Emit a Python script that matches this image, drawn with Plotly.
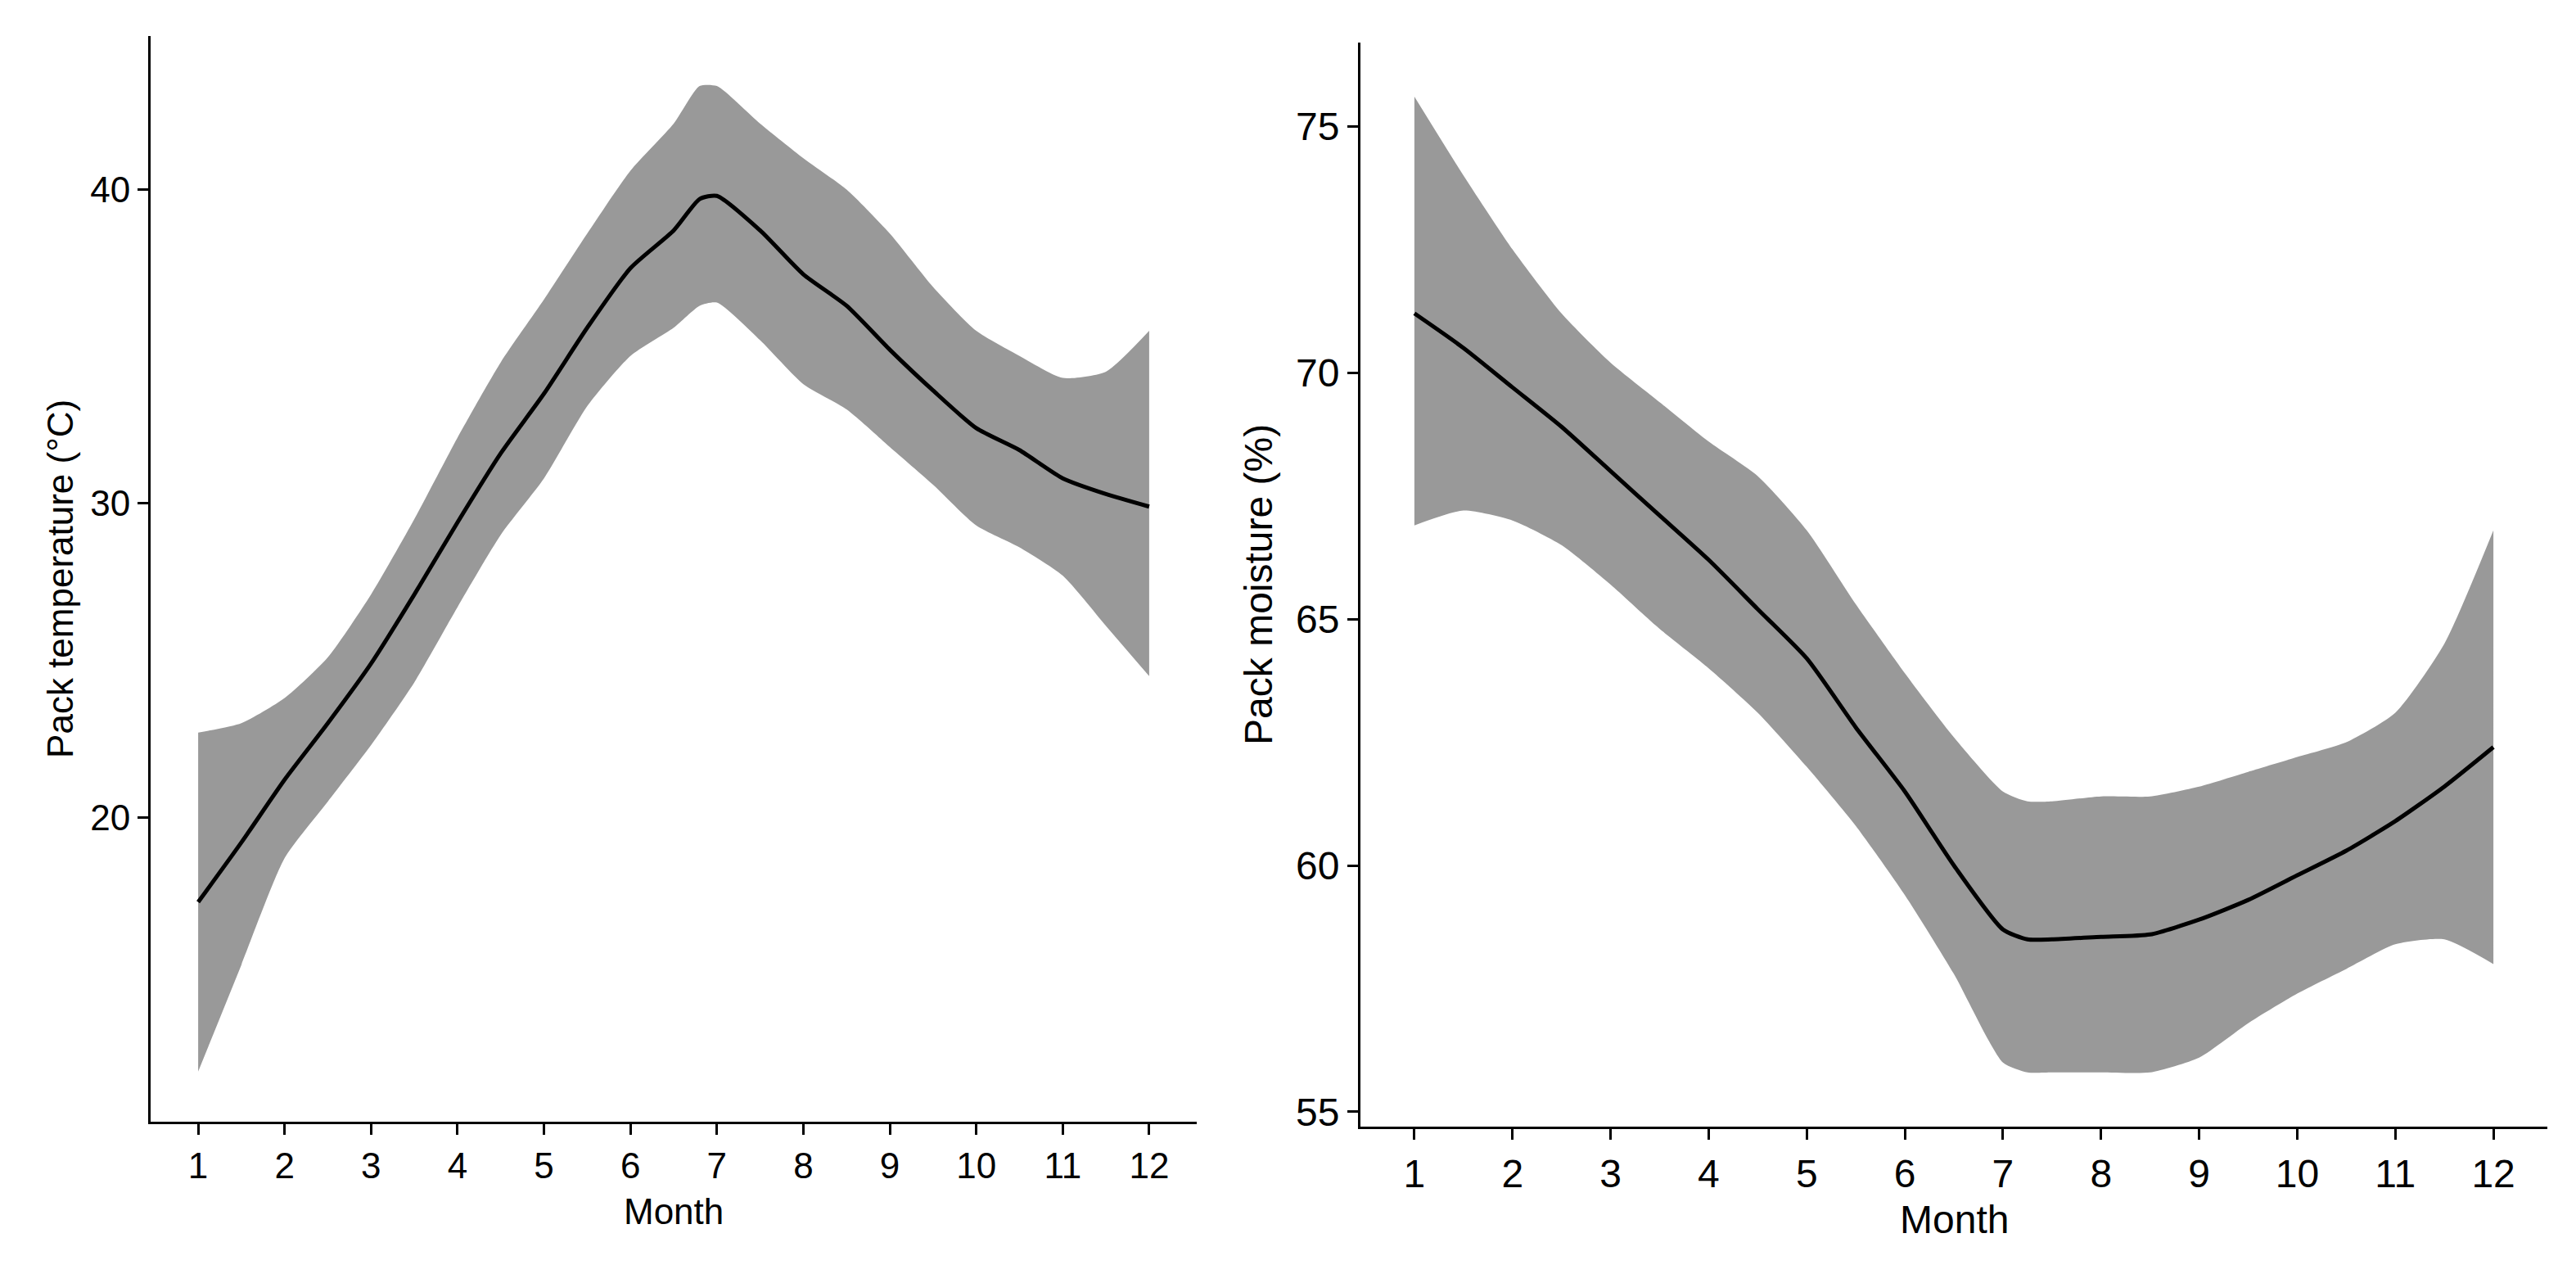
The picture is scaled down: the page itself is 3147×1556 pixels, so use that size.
import plotly.graph_objects as go

# ---- Left panel: pack temperature ----
temp_month = [1, 1.5, 2, 2.5, 3, 3.5, 4, 4.5, 5, 5.5, 6, 6.5, 6.8, 7, 7.5, 8, 8.5, 9, 9.5, 10, 10.5, 11, 11.5, 12]
temp_fit = [17.3, 19.2, 21.2, 23.0, 24.9, 27.1, 29.4, 31.6, 33.5, 35.6, 37.5, 38.7, 39.7, 39.8, 38.7, 37.3, 36.3, 34.9, 33.6, 32.4, 31.7, 30.8, 30.3, 29.9]
temp_upper = [22.7, 23.0, 23.8, 25.1, 27.1, 29.5, 32.1, 34.5, 36.5, 38.6, 40.6, 42.1, 43.3, 43.3, 42.1, 41.0, 40.0, 38.6, 36.9, 35.5, 34.7, 34.0, 34.2, 35.5]
temp_lower = [11.9, 15.3, 18.7, 20.5, 22.3, 24.3, 26.7, 29.0, 30.8, 33.1, 34.7, 35.6, 36.3, 36.4, 35.2, 33.8, 33.0, 31.8, 30.6, 29.3, 28.6, 27.7, 26.1, 24.5]

# ---- Right panel: pack moisture ----
moist_month = [1, 1.5, 2, 2.5, 3, 3.5, 4, 4.5, 5, 5.5, 6, 6.5, 7, 7.25, 7.5, 8, 8.5, 9, 9.5, 10, 10.5, 11, 11.5, 12]
moist_fit = [71.2, 70.5, 69.7, 68.9, 68.0, 67.1, 66.2, 65.2, 64.2, 62.8, 61.5, 60.0, 58.7, 58.5, 58.5, 58.55, 58.6, 58.9, 59.3, 59.8, 60.3, 60.9, 61.6, 62.4]
moist_upper = [75.6, 74.0, 72.5, 71.2, 70.2, 69.4, 68.6, 67.9, 66.8, 65.3, 63.9, 62.6, 61.5, 61.3, 61.3, 61.4, 61.4, 61.6, 61.9, 62.2, 62.5, 63.1, 64.5, 66.8]
moist_lower = [66.9, 67.2, 67.0, 66.5, 65.7, 64.8, 64.0, 63.1, 62.0, 60.8, 59.4, 57.8, 56.0, 55.8, 55.8, 55.8, 55.8, 56.1, 56.8, 57.4, 57.9, 58.4, 58.5, 58.0]

month_ticks = list(range(1, 13))
temp_ticks = [20, 30, 40]
moist_ticks = [55, 60, 65, 70, 75]

W, H = 3147, 1556
BAND = "#999999"
FONT = "Liberation Sans, Arial, sans-serif"
FS_L = 44
FS_R = 48

fig = go.Figure()

def add_panel(xs, fit, lo, hi, xa, ya):
    fig.add_trace(go.Scatter(x=xs, y=lo, mode="lines", line=dict(width=0, color=BAND, shape="spline", smoothing=0.6),
                             xaxis=xa, yaxis=ya, showlegend=False, hoverinfo="skip"))
    fig.add_trace(go.Scatter(x=xs, y=hi, mode="lines", line=dict(width=0, color=BAND, shape="spline", smoothing=0.6),
                             fill="tonexty", fillcolor=BAND, xaxis=xa, yaxis=ya, showlegend=False, hoverinfo="skip"))
    fig.add_trace(go.Scatter(x=xs, y=fit, mode="lines", line=dict(width=5, color="black", shape="spline", smoothing=0.6),
                             xaxis=xa, yaxis=ya, showlegend=False))

add_panel(temp_month, temp_fit, temp_lower, temp_upper, "x", "y")
add_panel(moist_month, moist_fit, moist_lower, moist_upper, "x2", "y2")

def axis_style(fs, **kw):
    d = dict(showline=True, linecolor="black", linewidth=3, ticks="outside", ticklen=13, tickwidth=3,
             tickcolor="black", showgrid=False, zeroline=False, mirror=False,
             tickfont=dict(family=FONT, size=fs, color="black"))
    d.update(kw)
    return d

fig.update_layout(
    width=W, height=H, margin=dict(l=0, r=0, t=0, b=0),
    paper_bgcolor="white", plot_bgcolor="white",
    xaxis=axis_style(FS_L, domain=[176 / W, 1454 / W], range=[0.45, 12.55], tickvals=month_ticks, anchor="y"),
    yaxis=axis_style(FS_L, domain=[1 - 1370 / H, 1 - 36 / H], range=[10.3, 44.9], tickvals=temp_ticks, anchor="x"),
    xaxis2=axis_style(FS_R, domain=[1654 / W, 3104 / W], range=[0.45, 12.55], tickvals=month_ticks, anchor="y2"),
    yaxis2=axis_style(FS_R, domain=[1 - 1376 / H, 1 - 44 / H], range=[54.7, 76.7], tickvals=moist_ticks, anchor="x2"),
)

ann = [
    dict(text="Month", x=815 / W, y=1 - 1480 / H, font_size=FS_L),
    dict(text="Month", x=2379 / W, y=1 - 1490 / H, font_size=FS_R),
    dict(text="Pack temperature (°C)", x=66 / W, y=1 - 703 / H, font_size=FS_L, textangle=-90),
    dict(text="Pack moisture (%)", x=1530 / W, y=1 - 710 / H, font_size=FS_R, textangle=-90),
]
for a in ann:
    fig.add_annotation(xref="paper", yref="paper", xanchor="center", yanchor="middle", showarrow=False,
                       text=a["text"], x=a["x"], y=a["y"], textangle=a.get("textangle", 0),
                       font=dict(family=FONT, size=a["font_size"], color="black"))

fig.write_html("out.html")
